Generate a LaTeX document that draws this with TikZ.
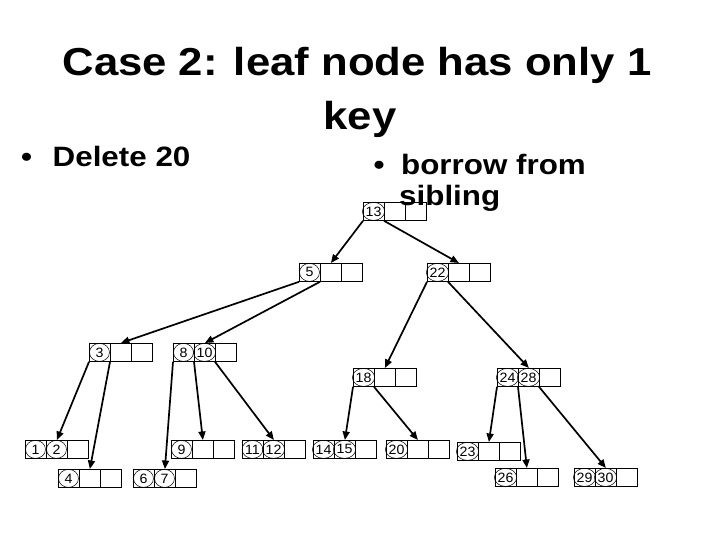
\documentclass[tikz,border=0pt]{standalone}
\usepackage{fontspec}
\setmainfont{Liberation Sans}
\newfontfamily\headfont[FakeStretch=1.12]{Liberation Sans}
\newfontfamily\keyfont[FakeStretch=1.05]{Liberation Sans}
\usetikzlibrary{arrows.meta, calc, shapes.geometric}

% one B-tree node: name, top-left corner, keys
\newcommand{\btnode}[3]{%
  \node[btbox] (#1) at (#2) {};
  \foreach \i in {1,2}
    \draw[btline] ($(#1.north west)+(21*\i,0)$) -- ($(#1.south west)+(21*\i,0)$);
  \foreach \i in {0,1,2}
    \coordinate (#1-p\i) at ($(#1.south west)+(21*\i,0)$);
  \foreach \k [count=\i] in {#3}
    \node[btkey] (#1-k\i) at ($(#1.west)+(21*\i-10.5,0)$) {\k};
}

\begin{document}
\begin{tikzpicture}[
    x=1pt, y=-1pt,
    btbox/.style={draw, anchor=north west, minimum width=63pt, minimum height=18pt, inner sep=0pt, line width=0.8pt},
    btline/.style={line width=0.8pt},
    btkey/.style={ellipse, draw, line width=0.5pt, inner sep=0pt, minimum width=20pt, minimum height=18pt, font=\keyfont\fontsize{13.5}{13.5}\selectfont},
    btptr/.style={-{Triangle[length=8.5pt, width=7pt]}, line width=1.7pt},
    head/.style={anchor=base, inner sep=0pt, font=\headfont\bfseries\fontsize{39}{39}\selectfont},
    point/.style={anchor=base west, inner sep=0pt, font=\headfont\bfseries\fontsize{28}{28}\selectfont},
]
\fill[white] (0,0) rectangle (720,540);
\useasboundingbox (0,0) rectangle (720,540);

% tree
\btnode{n13}{363,202}{13}
\btnode{n5}{299,263}{5}
\btnode{n22}{427,263}{22}
\btnode{n3}{89,343}{3}
\btnode{n8}{173,343}{8,10}
\btnode{n18}{353,368}{18}
\btnode{n24}{497,368}{24,28}
\btnode{n1}{25,440}{1,2}
\btnode{n4}{58,469}{4}
\btnode{n6}{133,469}{6,7}
\btnode{n9}{171,440}{9}
\btnode{n11}{242,440}{11,12}
\btnode{n14}{313,440}{14,15}
\btnode{n20}{386,440}{20}
\btnode{n23}{457,442}{23}
\btnode{n26}{495,468}{26}
\btnode{n29}{574,468}{29,30}

\draw[btptr] (n13-p0) -- (n5.north);
\draw[btptr] (n13-p1) -- (n22.north);
\draw[btptr] (n5-p0) -- (n3.north);
\draw[btptr] (n5-p1) -- (n8.north);
\draw[btptr] (n22-p0) -- (n18.north);
\draw[btptr] (n22-p1) -- (n24.north);
\draw[btptr] (n3-p0) -- (n1.north);
\draw[btptr] (n3-p1) -- (n4.north);
\draw[btptr] (n8-p0) -- (n6.north);
\draw[btptr] (n8-p1) -- (n9.north);
\draw[btptr] (n8-p2) -- (n11.north);
\draw[btptr] (n18-p0) -- (n14.north);
\draw[btptr] (n18-p1) -- (n20.north);
\draw[btptr] (n24-p0) -- (n23.north);
\draw[btptr] (n24-p1) -- (n26.north);
\draw[btptr] (n24-p2) -- (n29.north);

% texts
\node[head] (title1) at (357,76) {Case 2: leaf node has only 1};
\node[head] (title2) at (360,130) {key};
\node[point] (delete) at (21,167) {\makebox[31.5pt][l]{•}Delete 20};
\node[point] (borrow) at (373.5,175) {\makebox[27.5pt][l]{•}borrow from};
\node[point] (sibling) at (399,206) {sibling};

\end{tikzpicture}
\end{document}
